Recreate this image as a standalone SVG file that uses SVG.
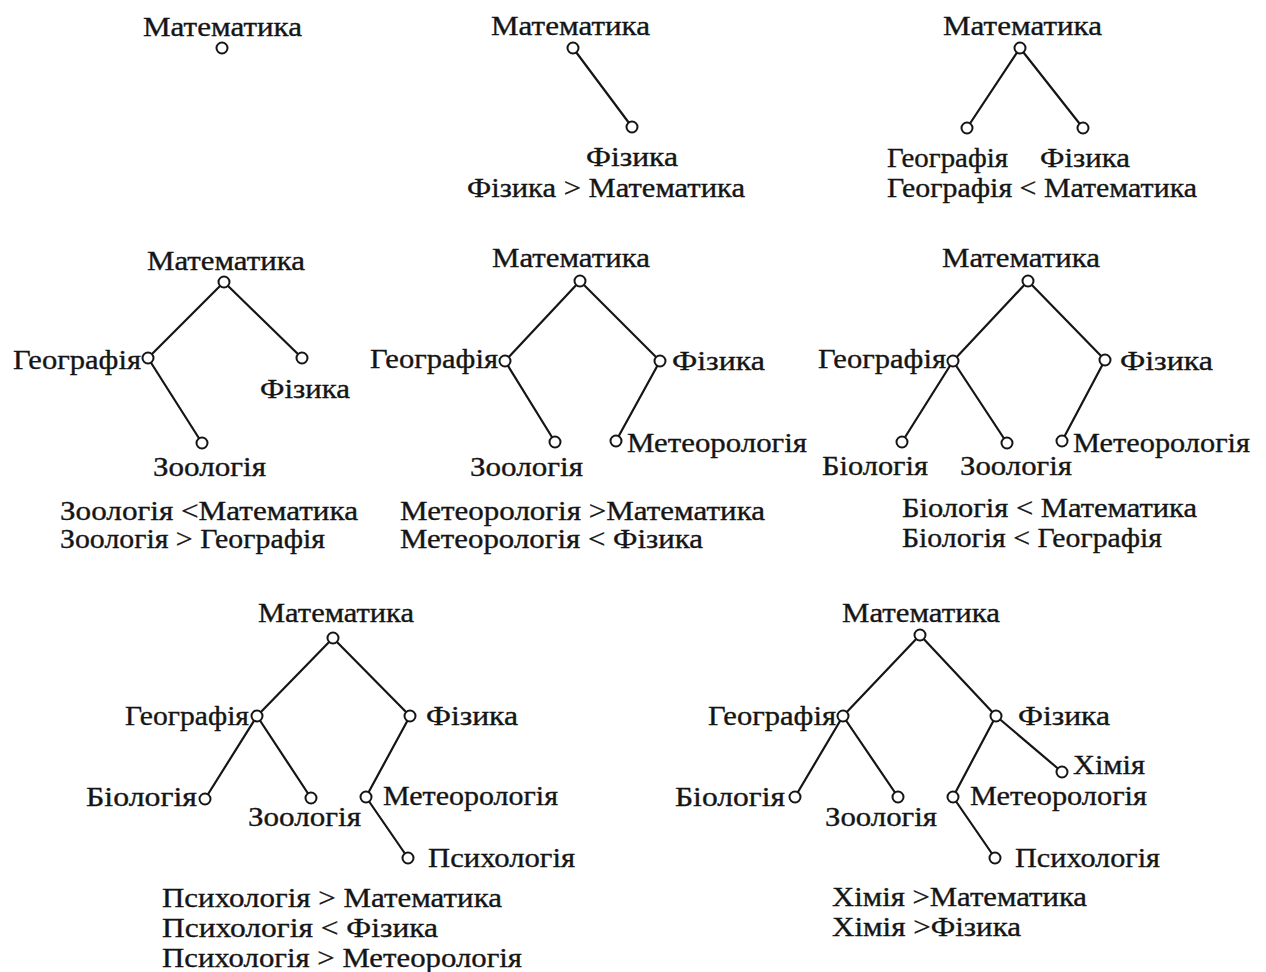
<svg xmlns="http://www.w3.org/2000/svg" width="1266" height="972" viewBox="0 0 1266 972">
  <style>
    .lbl { font-family: "Liberation Serif", "Times New Roman", serif; font-size: 28px; fill: #151515; stroke: #151515; stroke-width: 0.35; }
    .rel { font-family: "Liberation Serif", "Times New Roman", serif; font-size: 28px; fill: #151515; stroke: #151515; stroke-width: 0.35; }
    .edge { stroke: #151515; stroke-width: 2.2; fill: none; stroke-linecap: round; }
    .node { fill: #ffffff; stroke: #151515; stroke-width: 2; }
  </style>
  <rect width="1266" height="972" fill="#ffffff"/>

  <!-- Tree 1: a single root -->
  <g id="t1">
    <g id="t1-math">
      <text class="lbl" x="143" y="36" textLength="159" lengthAdjust="spacingAndGlyphs">Математика</text>
      <circle class="node" cx="222" cy="48" r="5.5"/>
    </g>
  </g>

  <!-- Tree 2 -->
  <g id="t2">
    <g id="t2-edges">
      <line class="edge" x1="573" y1="48" x2="632" y2="127"/>
    </g>
    <g id="t2-math">
      <text class="lbl" x="491" y="35" textLength="159" lengthAdjust="spacingAndGlyphs">Математика</text>
      <circle class="node" cx="573" cy="48" r="5.5"/>
    </g>
    <g id="t2-phys">
      <circle class="node" cx="632" cy="127" r="5.5"/>
      <text class="lbl" x="586" y="166" textLength="92" lengthAdjust="spacingAndGlyphs">Фізика</text>
    </g>
    <text class="rel" x="467" y="197" textLength="278" lengthAdjust="spacingAndGlyphs">Фізика &gt; Математика</text>
  </g>

  <!-- Tree 3 -->
  <g id="t3">
    <g id="t3-edges">
      <line class="edge" x1="1020" y1="48" x2="967" y2="128"/>
      <line class="edge" x1="1020" y1="48" x2="1083" y2="128"/>
    </g>
    <g id="t3-math">
      <text class="lbl" x="943" y="35" textLength="159" lengthAdjust="spacingAndGlyphs">Математика</text>
      <circle class="node" cx="1020" cy="48" r="5.5"/>
    </g>
    <g id="t3-geo">
      <circle class="node" cx="967" cy="128" r="5.5"/>
      <text class="lbl" x="887" y="167" textLength="121" lengthAdjust="spacingAndGlyphs">Географія</text>
    </g>
    <g id="t3-phys">
      <circle class="node" cx="1083" cy="128" r="5.5"/>
      <text class="lbl" x="1040" y="167" textLength="90" lengthAdjust="spacingAndGlyphs">Фізика</text>
    </g>
    <text class="rel" x="887" y="197" textLength="310" lengthAdjust="spacingAndGlyphs">Географія &lt; Математика</text>
  </g>

  <!-- Tree 4 -->
  <g id="t4">
    <g id="t4-edges">
      <line class="edge" x1="224" y1="282" x2="148" y2="358"/>
      <line class="edge" x1="224" y1="282" x2="302" y2="358"/>
      <line class="edge" x1="148" y1="358" x2="202" y2="443"/>
    </g>
    <g id="t4-math">
      <text class="lbl" x="147" y="270" textLength="158" lengthAdjust="spacingAndGlyphs">Математика</text>
      <circle class="node" cx="224" cy="282" r="5.5"/>
    </g>
    <g id="t4-geo">
      <circle class="node" cx="148" cy="358" r="5.5"/>
      <text class="lbl" x="13" y="369" textLength="128" lengthAdjust="spacingAndGlyphs">Географія</text>
    </g>
    <g id="t4-phys">
      <circle class="node" cx="302" cy="358" r="5.5"/>
      <text class="lbl" x="260" y="398" textLength="90" lengthAdjust="spacingAndGlyphs">Фізика</text>
    </g>
    <g id="t4-zoo">
      <circle class="node" cx="202" cy="443" r="5.5"/>
      <text class="lbl" x="153" y="476" textLength="113" lengthAdjust="spacingAndGlyphs">Зоологія</text>
    </g>
    <text class="rel" x="60" y="520" textLength="298" lengthAdjust="spacingAndGlyphs">Зоологія &lt;Математика</text>
    <text class="rel" x="60" y="548" textLength="265" lengthAdjust="spacingAndGlyphs">Зоологія &gt; Географія</text>
  </g>

  <!-- Tree 5 -->
  <g id="t5">
    <g id="t5-edges">
      <line class="edge" x1="580" y1="281" x2="505" y2="361"/>
      <line class="edge" x1="580" y1="281" x2="660" y2="361"/>
      <line class="edge" x1="505" y1="361" x2="555" y2="442"/>
      <line class="edge" x1="660" y1="361" x2="616" y2="441"/>
    </g>
    <g id="t5-math">
      <text class="lbl" x="492" y="267" textLength="158" lengthAdjust="spacingAndGlyphs">Математика</text>
      <circle class="node" cx="580" cy="281" r="5.5"/>
    </g>
    <g id="t5-geo">
      <circle class="node" cx="505" cy="361" r="5.5"/>
      <text class="lbl" x="370" y="368" textLength="128" lengthAdjust="spacingAndGlyphs">Географія</text>
    </g>
    <g id="t5-phys">
      <circle class="node" cx="660" cy="361" r="5.5"/>
      <text class="lbl" x="672" y="370" textLength="93" lengthAdjust="spacingAndGlyphs">Фізика</text>
    </g>
    <g id="t5-zoo">
      <circle class="node" cx="555" cy="442" r="5.5"/>
      <text class="lbl" x="470" y="476" textLength="113" lengthAdjust="spacingAndGlyphs">Зоологія</text>
    </g>
    <g id="t5-meteo">
      <circle class="node" cx="616" cy="441" r="5.5"/>
      <text class="lbl" x="627" y="452" textLength="180" lengthAdjust="spacingAndGlyphs">Метеорологія</text>
    </g>
    <text class="rel" x="400" y="520" textLength="365" lengthAdjust="spacingAndGlyphs">Метеорологія &gt;Математика</text>
    <text class="rel" x="400" y="548" textLength="303" lengthAdjust="spacingAndGlyphs">Метеорологія &lt; Фізика</text>
  </g>

  <!-- Tree 6 -->
  <g id="t6">
    <g id="t6-edges">
      <line class="edge" x1="1028" y1="281" x2="953" y2="361"/>
      <line class="edge" x1="1028" y1="281" x2="1105" y2="360"/>
      <line class="edge" x1="953" y1="361" x2="902" y2="442"/>
      <line class="edge" x1="953" y1="361" x2="1007" y2="443"/>
      <line class="edge" x1="1105" y1="360" x2="1062" y2="441"/>
    </g>
    <g id="t6-math">
      <text class="lbl" x="942" y="267" textLength="158" lengthAdjust="spacingAndGlyphs">Математика</text>
      <circle class="node" cx="1028" cy="281" r="5.5"/>
    </g>
    <g id="t6-geo">
      <circle class="node" cx="953" cy="361" r="5.5"/>
      <text class="lbl" x="818" y="368" textLength="128" lengthAdjust="spacingAndGlyphs">Географія</text>
    </g>
    <g id="t6-phys">
      <circle class="node" cx="1105" cy="360" r="5.5"/>
      <text class="lbl" x="1120" y="370" textLength="93" lengthAdjust="spacingAndGlyphs">Фізика</text>
    </g>
    <g id="t6-bio">
      <circle class="node" cx="902" cy="442" r="5.5"/>
      <text class="lbl" x="822" y="475" textLength="106" lengthAdjust="spacingAndGlyphs">Біологія</text>
    </g>
    <g id="t6-zoo">
      <circle class="node" cx="1007" cy="443" r="5.5"/>
      <text class="lbl" x="960" y="475" textLength="112" lengthAdjust="spacingAndGlyphs">Зоологія</text>
    </g>
    <g id="t6-meteo">
      <circle class="node" cx="1062" cy="441" r="5.5"/>
      <text class="lbl" x="1073" y="452" textLength="177" lengthAdjust="spacingAndGlyphs">Метеорологія</text>
    </g>
    <text class="rel" x="902" y="517" textLength="295" lengthAdjust="spacingAndGlyphs">Біологія &lt; Математика</text>
    <text class="rel" x="902" y="547" textLength="260" lengthAdjust="spacingAndGlyphs">Біологія &lt; Географія</text>
  </g>

  <!-- Tree 7 -->
  <g id="t7">
    <g id="t7-edges">
      <line class="edge" x1="333" y1="638" x2="257" y2="716"/>
      <line class="edge" x1="333" y1="638" x2="410" y2="716"/>
      <line class="edge" x1="257" y1="716" x2="205" y2="799"/>
      <line class="edge" x1="257" y1="716" x2="311" y2="798"/>
      <line class="edge" x1="410" y1="716" x2="366" y2="797"/>
      <line class="edge" x1="366" y1="797" x2="408" y2="858"/>
    </g>
    <g id="t7-math">
      <text class="lbl" x="258" y="622" textLength="156" lengthAdjust="spacingAndGlyphs">Математика</text>
      <circle class="node" cx="333" cy="638" r="5.5"/>
    </g>
    <g id="t7-geo">
      <circle class="node" cx="257" cy="716" r="5.5"/>
      <text class="lbl" x="125" y="725" textLength="124" lengthAdjust="spacingAndGlyphs">Географія</text>
    </g>
    <g id="t7-phys">
      <circle class="node" cx="410" cy="716" r="5.5"/>
      <text class="lbl" x="426" y="725" textLength="92" lengthAdjust="spacingAndGlyphs">Фізика</text>
    </g>
    <g id="t7-bio">
      <circle class="node" cx="205" cy="799" r="5.5"/>
      <text class="lbl" x="86" y="806" textLength="111" lengthAdjust="spacingAndGlyphs">Біологія</text>
    </g>
    <g id="t7-zoo">
      <circle class="node" cx="311" cy="798" r="5.5"/>
      <text class="lbl" x="248" y="826" textLength="113" lengthAdjust="spacingAndGlyphs">Зоологія</text>
    </g>
    <g id="t7-meteo">
      <circle class="node" cx="366" cy="797" r="5.5"/>
      <text class="lbl" x="383" y="805" textLength="175" lengthAdjust="spacingAndGlyphs">Метеорологія</text>
    </g>
    <g id="t7-psych">
      <circle class="node" cx="408" cy="858" r="5.5"/>
      <text class="lbl" x="428" y="867" textLength="147" lengthAdjust="spacingAndGlyphs">Психологія</text>
    </g>
    <text class="rel" x="162" y="907" textLength="340" lengthAdjust="spacingAndGlyphs">Психологія &gt; Математика</text>
    <text class="rel" x="162" y="937" textLength="276" lengthAdjust="spacingAndGlyphs">Психологія &lt; Фізика</text>
    <text class="rel" x="162" y="967" textLength="360" lengthAdjust="spacingAndGlyphs">Психологія &gt; Метеорологія</text>
  </g>

  <!-- Tree 8 -->
  <g id="t8">
    <g id="t8-edges">
      <line class="edge" x1="920" y1="635" x2="843" y2="716"/>
      <line class="edge" x1="920" y1="635" x2="996" y2="716"/>
      <line class="edge" x1="843" y1="716" x2="795" y2="797"/>
      <line class="edge" x1="843" y1="716" x2="898" y2="797"/>
      <line class="edge" x1="996" y1="716" x2="953" y2="797"/>
      <line class="edge" x1="996" y1="716" x2="1062" y2="772"/>
      <line class="edge" x1="953" y1="797" x2="995" y2="858"/>
    </g>
    <g id="t8-math">
      <text class="lbl" x="842" y="622" textLength="158" lengthAdjust="spacingAndGlyphs">Математика</text>
      <circle class="node" cx="920" cy="635" r="5.5"/>
    </g>
    <g id="t8-geo">
      <circle class="node" cx="843" cy="716" r="5.5"/>
      <text class="lbl" x="708" y="725" textLength="128" lengthAdjust="spacingAndGlyphs">Географія</text>
    </g>
    <g id="t8-phys">
      <circle class="node" cx="996" cy="716" r="5.5"/>
      <text class="lbl" x="1018" y="725" textLength="92" lengthAdjust="spacingAndGlyphs">Фізика</text>
    </g>
    <g id="t8-chem">
      <circle class="node" cx="1062" cy="772" r="5.5"/>
      <text class="lbl" x="1073" y="774" textLength="72" lengthAdjust="spacingAndGlyphs">Хімія</text>
    </g>
    <g id="t8-bio">
      <circle class="node" cx="795" cy="797" r="5.5"/>
      <text class="lbl" x="675" y="806" textLength="110" lengthAdjust="spacingAndGlyphs">Біологія</text>
    </g>
    <g id="t8-zoo">
      <circle class="node" cx="898" cy="797" r="5.5"/>
      <text class="lbl" x="825" y="826" textLength="112" lengthAdjust="spacingAndGlyphs">Зоологія</text>
    </g>
    <g id="t8-meteo">
      <circle class="node" cx="953" cy="797" r="5.5"/>
      <text class="lbl" x="970" y="805" textLength="177" lengthAdjust="spacingAndGlyphs">Метеорологія</text>
    </g>
    <g id="t8-psych">
      <circle class="node" cx="995" cy="858" r="5.5"/>
      <text class="lbl" x="1015" y="867" textLength="145" lengthAdjust="spacingAndGlyphs">Психологія</text>
    </g>
    <text class="rel" x="832" y="906" textLength="255" lengthAdjust="spacingAndGlyphs">Хімія &gt;Математика</text>
    <text class="rel" x="832" y="936" textLength="189" lengthAdjust="spacingAndGlyphs">Хімія &gt;Фізика</text>
  </g>
</svg>
